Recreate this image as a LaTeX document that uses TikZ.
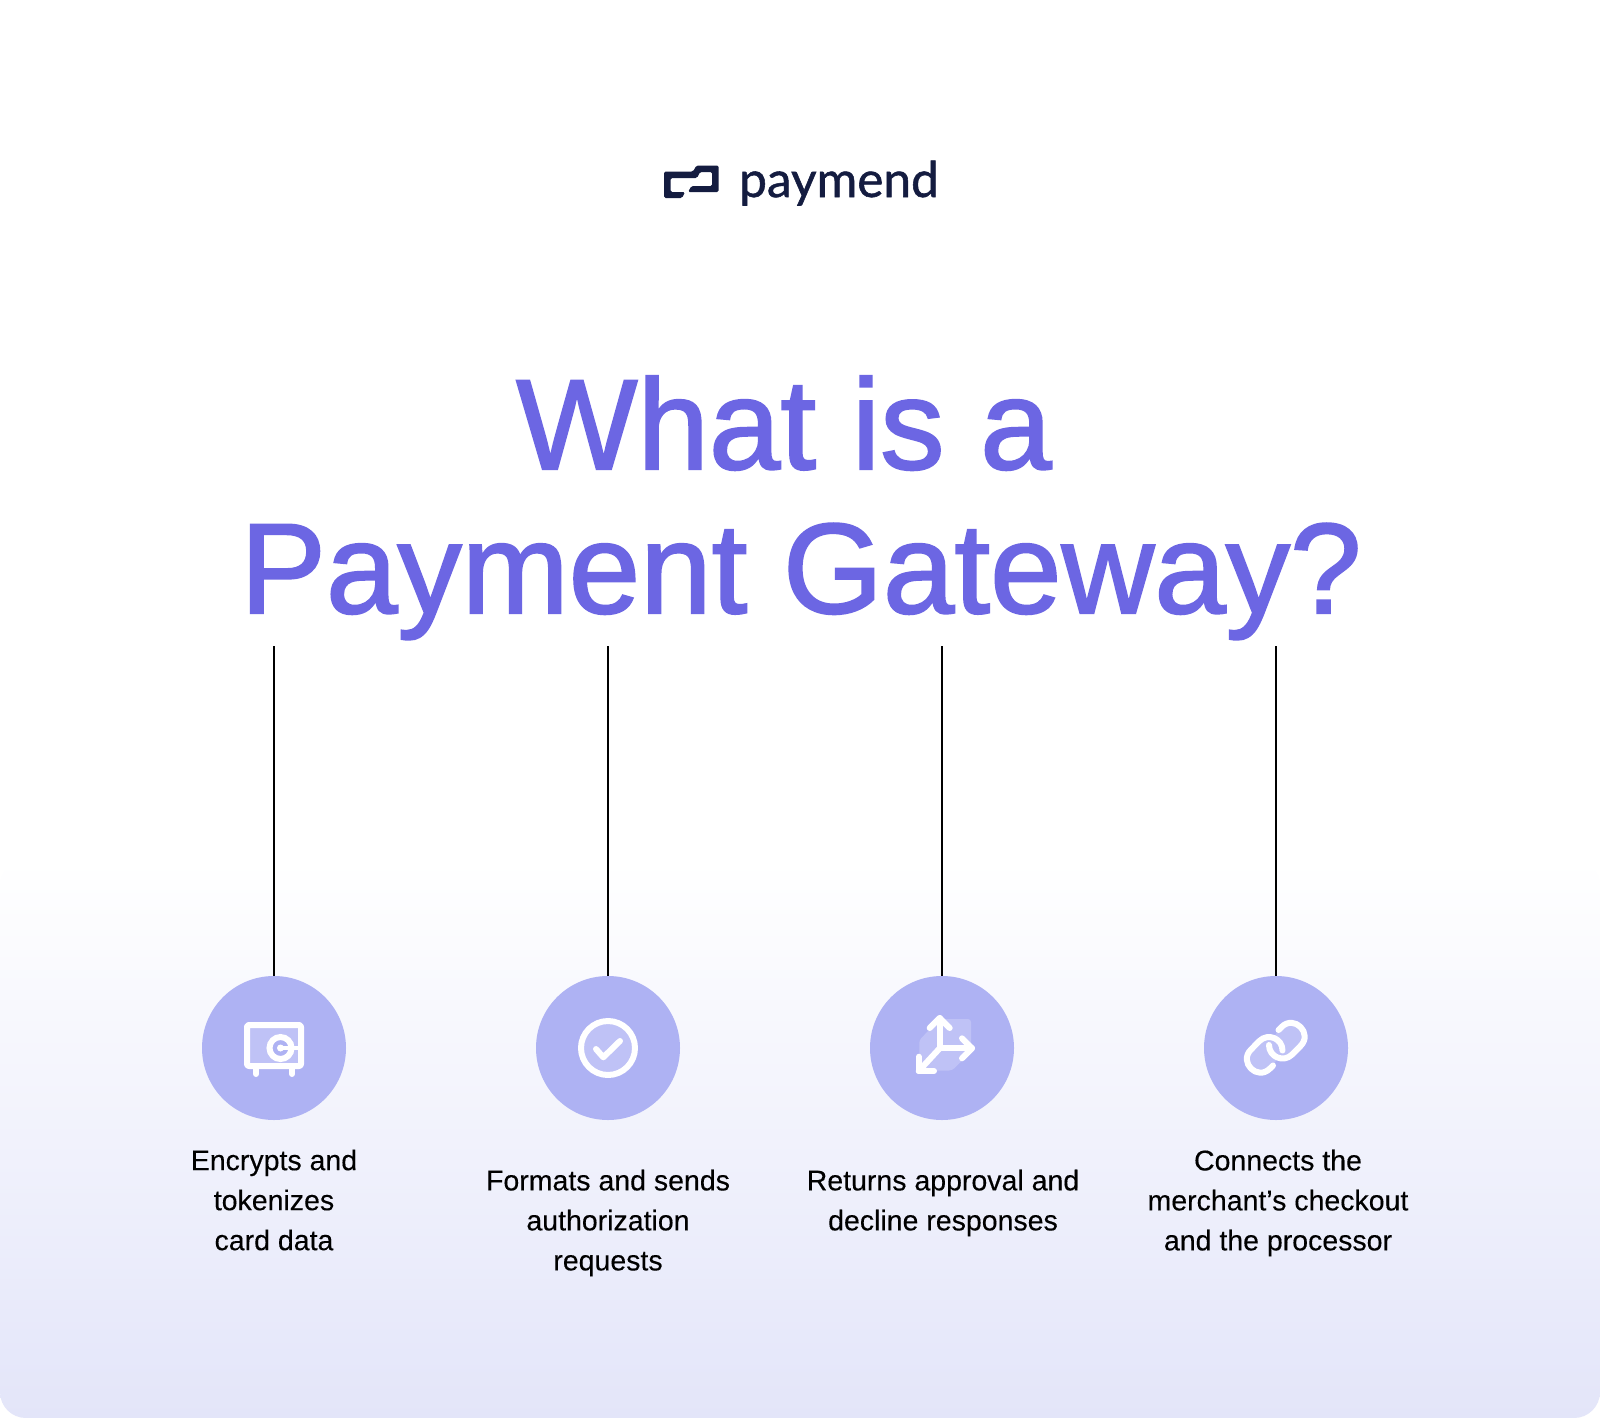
\documentclass[tikz,border=0pt]{standalone}
\usepackage{fontspec}
\setmainfont{Liberation Sans}
\newfontfamily\logofont{Lato}[FakeBold=1.1]
\newfontfamily\titlefont{Liberation Sans}[FakeBold=1.6]
\newfontfamily\labelfont{Liberation Sans}[FakeBold=0.2]
\definecolor{titlec}{HTML}{6C66E3}
\definecolor{navy}{HTML}{141C40}
\definecolor{disc}{HTML}{AEB2F3}
\definecolor{bandc}{HTML}{E3E5F9}
\definecolor{tint}{HTML}{BFC2F6}
\tikzset{
  x=1pt,y=-1pt,
  stem/.style={draw=black,line width=2pt},
  disk/.style={circle,fill=disc,minimum size=144pt,inner sep=0pt,draw=none},
  ic/.style={draw=white,line width=6pt,line cap=round,line join=round},
  lab/.style={font=\labelfont\fontsize{28.5}{40}\selectfont,align=center,anchor=center,inner sep=0pt,text=black},
  ttl/.style={font=\titlefont\fontsize{128.5}{146}\selectfont,text=titlec,inner sep=0pt,anchor=base},
}
\begin{document}
\begin{tikzpicture}
\useasboundingbox (0,0) rectangle (1600,1418);
\fill[white] (0,0) rectangle (1600,1418);
\shade[top color=white,bottom color=bandc,rounded corners=26pt] (0,860) rectangle (1600,1418);
% logo
\fill[navy,rounded corners=1.5pt] (664,171.5) -- (693,171.5) -- (696.5,165.5) -- (718.5,165.5) -- (718.5,192) -- (688,192) -- (691.5,186) -- (712,186) -- (712,172) -- (700,172) -- (697,178) -- (670.5,178) -- (670.5,192) -- (685,192) -- (682,198) -- (664,198) -- cycle;
\node[font=\logofont\fontsize{49.5}{49.5}\selectfont,text=navy,anchor=base west,inner sep=0pt] (logo) at (739,197) {paymend};
% title
\node[ttl] (t1) at (784,469) {What is a};
\node[ttl] (t2) at (801,613) {Payment Gateway?};
% discs
\node[disk] (d1) at (274,1048) {};
\node[disk] (d2) at (608,1048) {};
\node[disk] (d3) at (942,1048) {};
\node[disk] (d4) at (1276,1048) {};
\coordinate (s1) at (274,646);
\coordinate (s2) at (608,646);
\coordinate (s3) at (942,646);
\coordinate (s4) at (1276,646);
\draw[stem] (s1) -- (d1.north);
\draw[stem] (s2) -- (d2.north);
\draw[stem] (s3) -- (d3.north);
\draw[stem] (s4) -- (d4.north);
% safe
\draw[ic,fill=tint,rounded corners=2pt] (247,1025) rectangle (301,1066);
\draw[ic] (256,1069) -- (256,1074);
\draw[ic] (292,1069) -- (292,1074);
\draw[white,line width=6pt,fill=disc] (280.5,1048) circle (11);
\fill[white] (280.5,1048) circle (3.5);
\draw[white,line width=4.5pt] (280.5,1048) -- (300,1048);
% check
\draw[ic,fill=tint] (608,1048) circle (27);
\draw[ic] (596,1049) -- (603.3,1057.3) -- (620,1041);
% arrows
\fill[tint,rounded corners=3pt] (919.3,1040) -- (940,1019) -- (971,1019) -- (971,1052) -- (952,1070.5) -- (919.3,1070.5) -- cycle;
\draw[ic] (939.7,1048.3) -- (939.7,1018);
\draw[ic] (929.7,1028) -- (939.7,1018) -- (949.7,1028);
\draw[ic] (939.7,1048.3) -- (972,1048.3);
\draw[ic] (962,1038.3) -- (972,1048.3) -- (962,1058.3);
\draw[ic] (939.7,1048.3) -- (918.7,1071);
\draw[ic] (918.7,1056.7) -- (918.7,1071) -- (934,1071);
% link
\fill[tint] (1273,1065.5) -- (1270,1068.5) .. controls (1257.3,1081.2) and (1238.3,1062.2) .. (1251,1049.5) -- (1259.45,1040.95) .. controls (1268,1032.5) and (1282.5,1038.5) .. (1282.5,1050.5) -- cycle;
\fill[tint] (1278.5,1030) -- (1281.5,1027) .. controls (1294.2,1014.3) and (1313.2,1033.3) .. (1300.5,1046) -- (1292.05,1054.55) .. controls (1283.5,1063) and (1269,1057) .. (1269,1045) -- cycle;
\draw[ic] (1273,1065.5) -- (1270,1068.5) .. controls (1257.3,1081.2) and (1238.3,1062.2) .. (1251,1049.5) -- (1259.45,1040.95) .. controls (1268,1032.5) and (1282.5,1038.5) .. (1282.5,1050.5);
\draw[ic] (1278.5,1030) -- (1281.5,1027) .. controls (1294.2,1014.3) and (1313.2,1033.3) .. (1300.5,1046) -- (1292.05,1054.55) .. controls (1283.5,1063) and (1269,1057) .. (1269,1045);
% labels
\node[lab] (l1) at (274,1200) {Encrypts and\\tokenizes\hspace*{6pt}\\card data};
\node[lab] (l2) at (608,1223) {Formats and sends\\authorization\\requests};
\node[lab] (l3) at (943,1203) {Returns approval and\\decline responses};
\node[lab] (l4) at (1278,1203) {Connects the\\merchant’s checkout\\and the processor};
\end{tikzpicture}
\end{document}
